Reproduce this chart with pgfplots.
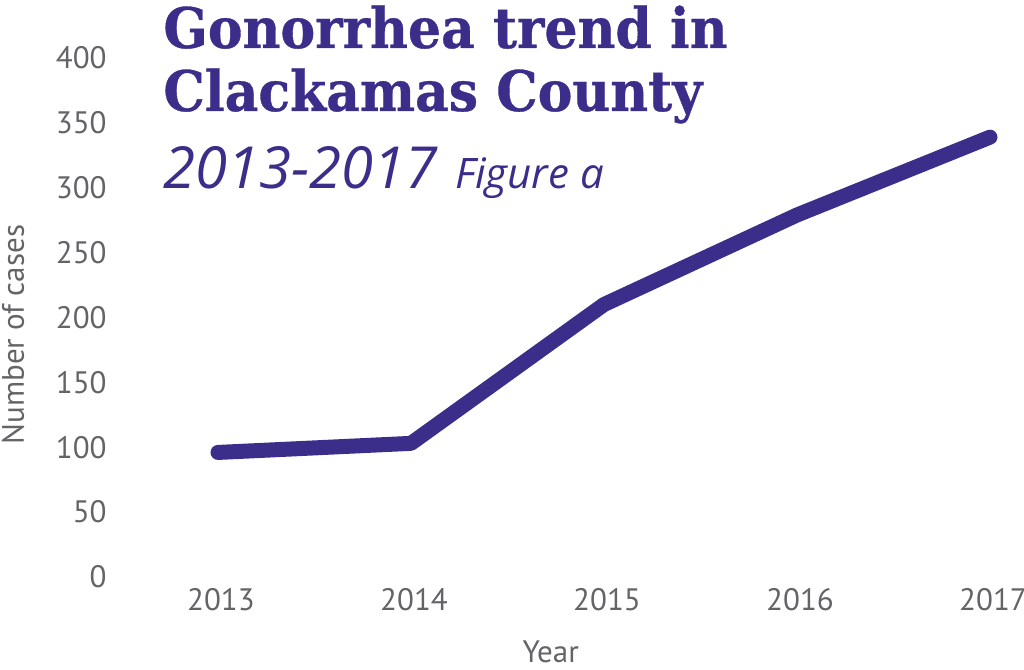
\documentclass[border=0pt]{standalone}
\usepackage{pgfplots}
\pgfplotsset{compat=1.18}
\usepackage{fontspec}
\setmainfont{PT Sans}
\newfontfamily\titlefont{DejaVu Serif}[FakeStretch=0.93, FakeBold=0.6]
\newfontfamily\subfont{Open Sans}
\definecolor{purp}{RGB}{59,46,139}
\definecolor{txtgray}{RGB}{99,100,102}
\begin{document}
\begin{tikzpicture}
\path[use as bounding box] (0,0) rectangle (512pt,335pt);
\begin{axis}[
  at={(109pt,46.5pt)}, anchor=south west,
  scale only axis, width=386pt, height=259.5pt,
  xmin=2013, xmax=2017, ymin=0, ymax=400,
  clip=false,
  axis line style={draw=none},
  major tick length=0pt,
  xtick={2013,2014,2015,2016,2017},
  xticklabels={2013,2014,2015,2016,2017},
  ytick={0,50,100,150,200,250,300,350,400},
  yticklabels={0,50,100,150,200,250,300,350,400},
  tick label style={font=\fontsize{15.5}{18}\selectfont, text=txtgray, inner sep=0pt},
  yticklabel style={anchor=east, xshift=-55.5pt},
  xticklabel style={anchor=north, yshift=-5.5pt, xshift=1.5pt},
  xlabel={Year},
  ylabel={Number of cases},
  label style={font=\fontsize{15.5}{18}\selectfont, text=txtgray, inner sep=0pt},
  xlabel style={at={(axis description cs:0.431,0)}, anchor=base, yshift=-42.5pt},
  ylabel style={at={(axis description cs:-0.2655,0.467)}, anchor=center},
]
\addplot[purp, line width=7.5pt, line cap=round, line join=round] coordinates {
  (2013,96) (2014,103) (2015,210) (2016,279) (2017,339)
};
\end{axis}
\node[anchor=base west, inner sep=0pt, text=purp, font=\titlefont\bfseries\fontsize{28}{30}\selectfont] at (81.5pt,311pt) {Gonorrhea trend in};
\node[anchor=base west, inner sep=0pt, text=purp, font=\titlefont\bfseries\fontsize{28}{30}\selectfont] at (81.5pt,279.5pt) {Clackamas County};
\node[anchor=base west, inner sep=0pt, text=purp] at (81.5pt,240.5pt) {{\subfont\itshape\fontsize{29}{32}\selectfont 2013-2017}\hspace{9pt}{\subfont\itshape\fontsize{21}{24}\selectfont Figure a}};
\end{tikzpicture}
\end{document}
